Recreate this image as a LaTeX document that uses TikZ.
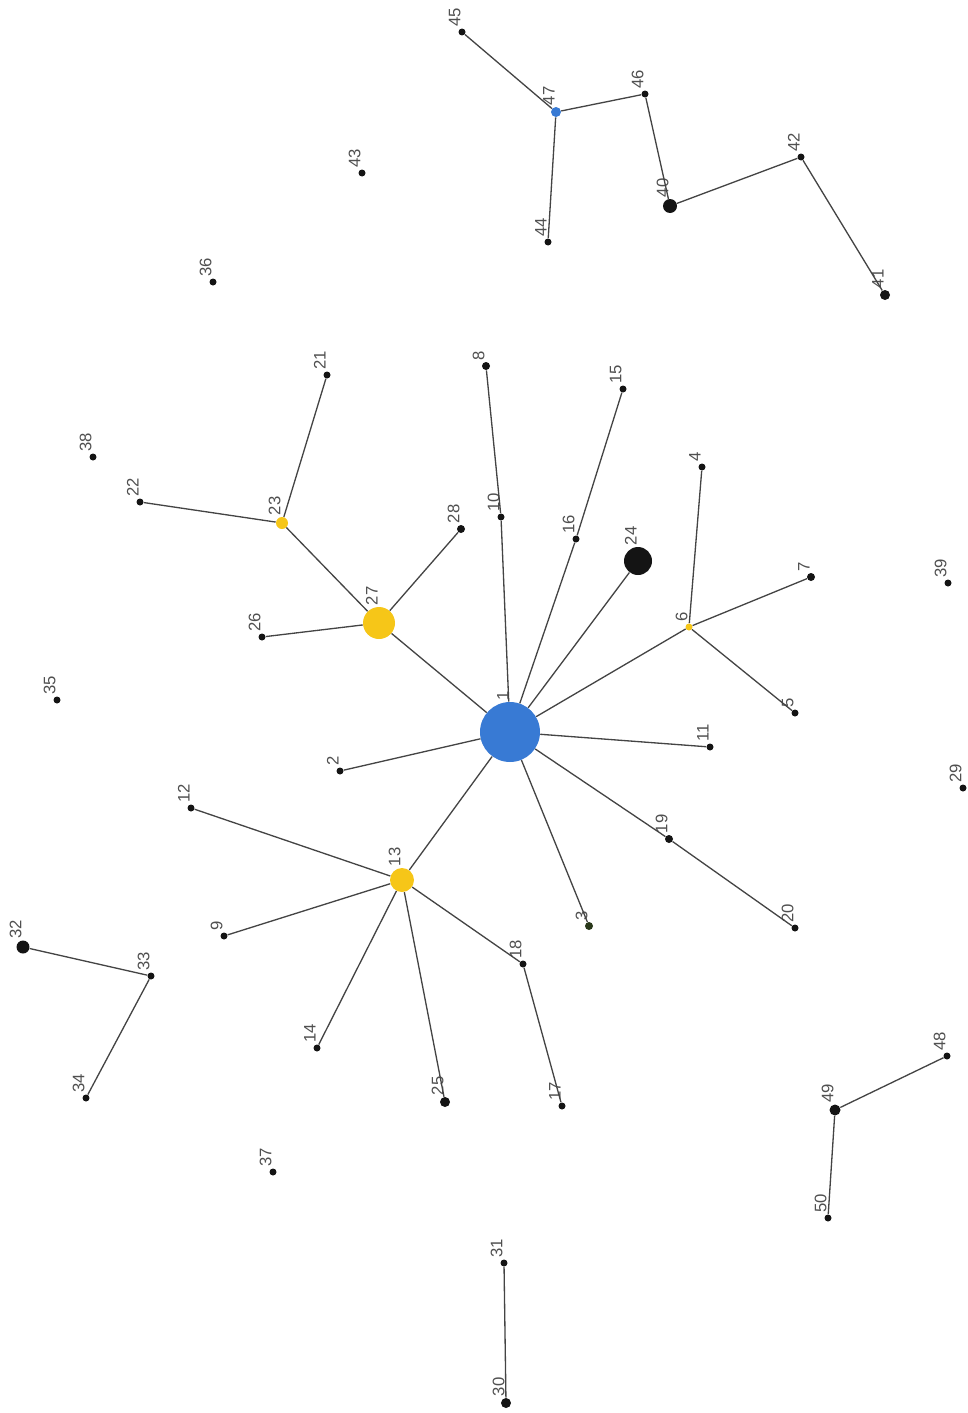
\documentclass[tikz,border=0pt]{standalone}
\usepackage{fontspec}
\newfontfamily\lblfont{Liberation Sans}
\usepackage{tikz}
\usetikzlibrary{positioning}
\definecolor{hubblue}{RGB}{56,122,212}
\definecolor{leafyellow}{RGB}{246,198,24}
\definecolor{dotblack}{RGB}{20,20,20}
\definecolor{dotgreen}{RGB}{40,55,25}
\definecolor{linkgray}{RGB}{68,68,68}
\definecolor{lblgray}{RGB}{80,80,80}

\begin{document}
\begin{tikzpicture}[x=0.02cm, y=-0.02cm,
    vert/.style={circle, fill=dotblack, inner sep=0pt, minimum size=#1},
    vert/.default=0.14cm,
    lbl/.style={rotate=90, anchor=south west, inner sep=0.6pt, font=\lblfont\fontsize{9.5}{9.5}\selectfont, text=lblgray},
    link/.style={draw=linkgray, line width=0.75pt}]
    \useasboundingbox (0,0) rectangle (967,1413);

    % Hub and its branches
    \node[vert=1.2cm, fill=hubblue] (n1) at (510,732) {}; \node[lbl] (l1) at (n1.north) {1};
    \node[vert] (n2) at (340,771) {}; \node[lbl] (l2) at (n2.north) {2};
    \node[vert=0.16cm, fill=dotgreen] (n3) at (589,926) {}; \node[lbl] (l3) at (n3.north) {3};
    \node[vert] (n4) at (702,467) {}; \node[lbl] (l4) at (n4.north) {4};
    \node[vert] (n5) at (795,713) {}; \node[lbl] (l5) at (n5.north) {5};
    \node[vert, fill=leafyellow] (n6) at (689,627) {}; \node[lbl] (l6) at (n6.north) {6};
    \node[vert=0.16cm] (n7) at (811,577) {}; \node[lbl] (l7) at (n7.north) {7};
    \node[vert=0.16cm] (n8) at (486,366) {}; \node[lbl] (l8) at (n8.north) {8};
    \node[vert] (n9) at (224,936) {}; \node[lbl] (l9) at (n9.north) {9};
    \node[vert] (n10) at (501,517) {}; \node[lbl] (l10) at (n10.north) {10};
    \node[vert] (n11) at (710,747) {}; \node[lbl] (l11) at (n11.north) {11};
    \node[vert] (n12) at (191,808) {}; \node[lbl] (l12) at (n12.north) {12};
    \node[vert=0.48cm, fill=leafyellow] (n13) at (402,880) {}; \node[lbl] (l13) at (n13.north) {13};
    \node[vert] (n14) at (317,1048) {}; \node[lbl] (l14) at (n14.north) {14};
    \node[vert] (n15) at (623,389) {}; \node[lbl] (l15) at (n15.north) {15};
    \node[vert] (n16) at (576,539) {}; \node[lbl] (l16) at (n16.north) {16};
    \node[vert] (n17) at (562,1106) {}; \node[lbl] (l17) at (n17.north) {17};
    \node[vert] (n18) at (523,964) {}; \node[lbl] (l18) at (n18.north) {18};
    \node[vert=0.16cm] (n19) at (669,839) {}; \node[lbl] (l19) at (n19.north) {19};
    \node[vert] (n20) at (795,928) {}; \node[lbl] (l20) at (n20.north) {20};
    \node[vert] (n21) at (327,375) {}; \node[lbl] (l21) at (n21.north) {21};
    \node[vert] (n22) at (140,502) {}; \node[lbl] (l22) at (n22.north) {22};
    \node[vert=0.24cm, fill=leafyellow] (n23) at (282,523) {}; \node[lbl] (l23) at (n23.north) {23};
    \node[vert=0.56cm] (n24) at (638,561) {}; \node[lbl] (l24) at (n24.north) {24};
    \node[vert=0.2cm] (n25) at (445,1102) {}; \node[lbl] (l25) at (n25.north) {25};
    \node[vert] (n26) at (262,637) {}; \node[lbl] (l26) at (n26.north) {26};
    \node[vert=0.64cm, fill=leafyellow] (n27) at (379,623) {}; \node[lbl] (l27) at (n27.north) {27};
    \node[vert=0.16cm] (n28) at (461,529) {}; \node[lbl] (l28) at (n28.north) {28};

    % Upper right chain
    \node[vert=0.28cm] (n40) at (670,206) {}; \node[lbl] (l40) at (n40.north) {40};
    \node[vert=0.2cm] (n41) at (885,295) {}; \node[lbl] (l41) at (n41.north) {41};
    \node[vert] (n42) at (801,157) {}; \node[lbl] (l42) at (n42.north) {42};
    \node[vert] (n44) at (548,242) {}; \node[lbl] (l44) at (n44.north) {44};
    \node[vert] (n45) at (462,32) {}; \node[lbl] (l45) at (n45.north) {45};
    \node[vert] (n46) at (645,94) {}; \node[lbl] (l46) at (n46.north) {46};
    \node[vert=0.2cm, fill=hubblue] (n47) at (556,112) {}; \node[lbl] (l47) at (n47.north) {47};

    % Small pairs
    \node[vert=0.26cm] (n32) at (23,947) {}; \node[lbl] (l32) at (n32.north) {32};
    \node[vert] (n33) at (151,976) {}; \node[lbl] (l33) at (n33.north) {33};
    \node[vert] (n34) at (86,1098) {}; \node[lbl] (l34) at (n34.north) {34};
    \node[vert] (n48) at (947,1056) {}; \node[lbl] (l48) at (n48.north) {48};
    \node[vert=0.22cm] (n49) at (835,1110) {}; \node[lbl] (l49) at (n49.north) {49};
    \node[vert] (n50) at (828,1218) {}; \node[lbl] (l50) at (n50.north) {50};
    \node[vert=0.2cm] (n30) at (506,1403) {}; \node[lbl] (l30) at (n30.north) {30};
    \node[vert] (n31) at (504,1263) {}; \node[lbl] (l31) at (n31.north) {31};

    % Isolated
    \node[vert] (n29) at (963,788) {}; \node[lbl] (l29) at (n29.north) {29};
    \node[vert] (n35) at (57,700) {}; \node[lbl] (l35) at (n35.north) {35};
    \node[vert] (n36) at (213,282) {}; \node[lbl] (l36) at (n36.north) {36};
    \node[vert] (n37) at (273,1172) {}; \node[lbl] (l37) at (n37.north) {37};
    \node[vert] (n38) at (93,457) {}; \node[lbl] (l38) at (n38.north) {38};
    \node[vert] (n39) at (948,583) {}; \node[lbl] (l39) at (n39.north) {39};
    \node[vert] (n43) at (362,173) {}; \node[lbl] (l43) at (n43.north) {43};

    % Links
    \draw[link] (n1) -- (n27); \draw[link] (n27) -- (n23);
    \draw[link] (n23) -- (n21); \draw[link] (n23) -- (n22);
    \draw[link] (n27) -- (n26); \draw[link] (n27) -- (n28);
    \draw[link] (n1) -- (n10); \draw[link] (n10) -- (n8);
    \draw[link] (n1) -- (n16); \draw[link] (n16) -- (n15);
    \draw[link] (n1) -- (n24);
    \draw[link] (n1) -- (n6); \draw[link] (n6) -- (n4);
    \draw[link] (n6) -- (n7); \draw[link] (n6) -- (n5);
    \draw[link] (n1) -- (n11);
    \draw[link] (n1) -- (n19); \draw[link] (n19) -- (n20);
    \draw[link] (n1) -- (n3);
    \draw[link] (n1) -- (n2);
    \draw[link] (n1) -- (n13); \draw[link] (n13) -- (n12);
    \draw[link] (n13) -- (n9); \draw[link] (n13) -- (n14);
    \draw[link] (n13) -- (n25); \draw[link] (n13) -- (n18);
    \draw[link] (n18) -- (n17);

    \draw[link] (n45) -- (n47); \draw[link] (n47) -- (n46);
    \draw[link] (n47) -- (n44); \draw[link] (n46) -- (n40);
    \draw[link] (n40) -- (n42); \draw[link] (n42) -- (n41);

    \draw[link] (n32) -- (n33); \draw[link] (n33) -- (n34);
    \draw[link] (n48) -- (n49); \draw[link] (n49) -- (n50);
    \draw[link] (n30) -- (n31);
\end{tikzpicture}
\end{document}
